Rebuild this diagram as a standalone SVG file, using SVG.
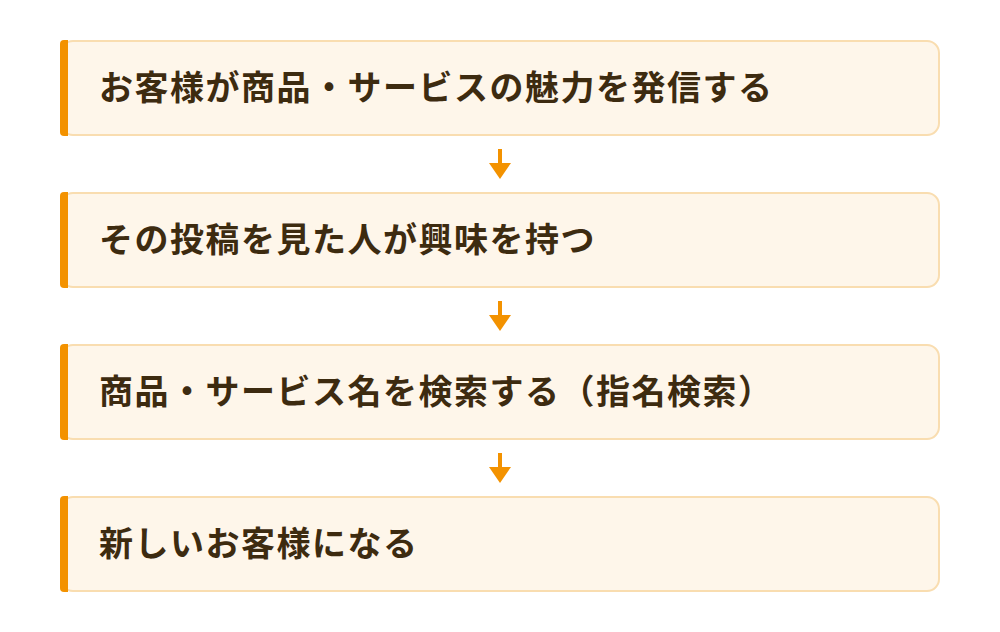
<svg xmlns="http://www.w3.org/2000/svg" width="1000" height="632" viewBox="0 0 1000 632">
<style>
.card{fill:#FEF6EA;stroke:#F9DDB0;stroke-width:2}
.bar{fill:#F39200}
.lbl{font-family:"Noto Sans CJK JP","Noto Sans",sans-serif;font-weight:700;font-size:34px;letter-spacing:1.5px;fill:#3D2B10}
.shaft{stroke:#F39200;stroke-width:4}
.head{fill:#F39200}
</style>
<rect width="1000" height="632" fill="#FFFFFF"/>
<g id="node1">
<rect class="card" x="61" y="41" width="878" height="94" rx="12"/>
<path class="bar" d="M64 40 H68 V136 H64 A4 4 0 0 1 60 132 V44 A4 4 0 0 1 64 40 Z"/>
<text class="lbl" x="99" y="100">お客様が商品・サービスの魅力を発信する</text>
</g>
<g id="node2">
<rect class="card" x="61" y="193" width="878" height="94" rx="12"/>
<path class="bar" d="M64 192 H68 V288 H64 A4 4 0 0 1 60 284 V196 A4 4 0 0 1 64 192 Z"/>
<text class="lbl" x="99" y="252">その投稿を見た人が興味を持つ</text>
</g>
<g id="node3">
<rect class="card" x="61" y="345" width="878" height="94" rx="12"/>
<path class="bar" d="M64 344 H68 V440 H64 A4 4 0 0 1 60 436 V348 A4 4 0 0 1 64 344 Z"/>
<text class="lbl" x="99" y="404">商品・サービス名を検索する（指名検索）</text>
</g>
<g id="node4">
<rect class="card" x="61" y="497" width="878" height="94" rx="12"/>
<path class="bar" d="M64 496 H68 V592 H64 A4 4 0 0 1 60 588 V500 A4 4 0 0 1 64 496 Z"/>
<text class="lbl" x="99" y="556">新しいお客様になる</text>
</g>
<g id="connectors">
<line class="shaft" x1="500" y1="149" x2="500" y2="165"/>
<polygon class="head" points="489,163 511,163 500,179"/>
<line class="shaft" x1="500" y1="301" x2="500" y2="317"/>
<polygon class="head" points="489,315 511,315 500,331"/>
<line class="shaft" x1="500" y1="453" x2="500" y2="469"/>
<polygon class="head" points="489,467 511,467 500,483"/>
</g>
</svg>
